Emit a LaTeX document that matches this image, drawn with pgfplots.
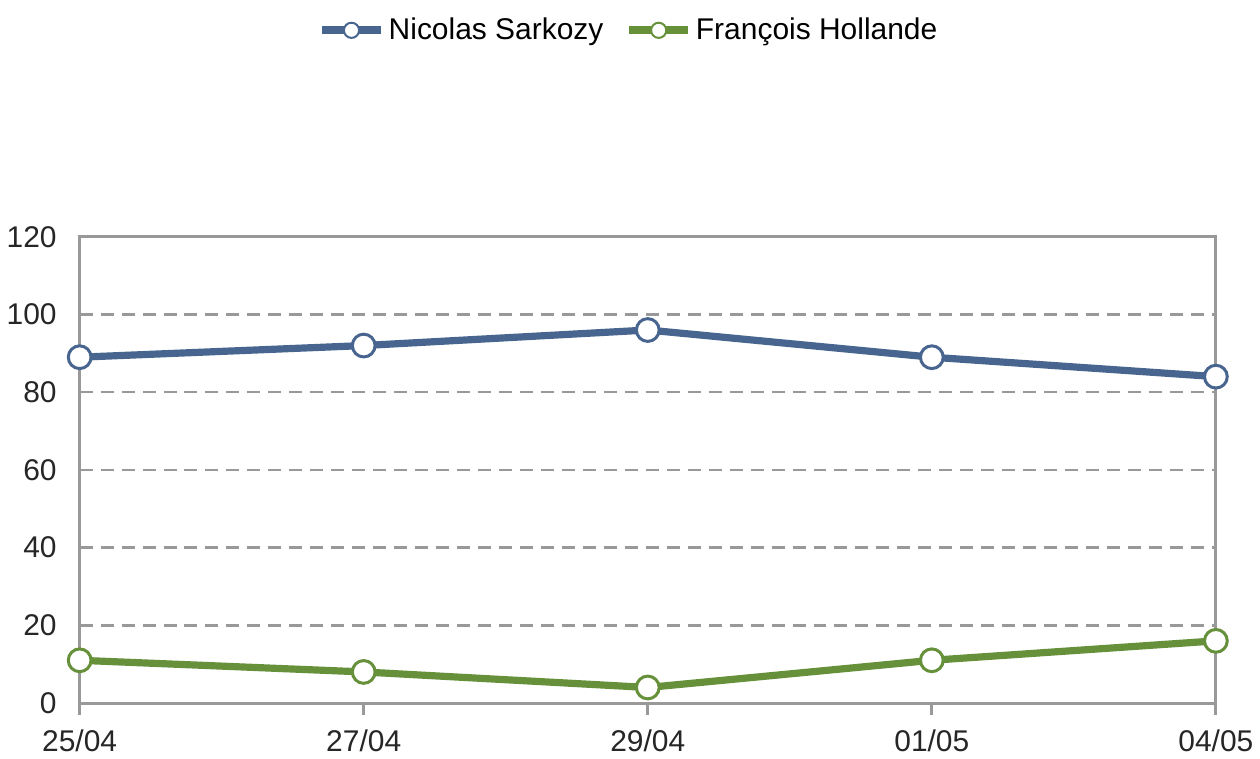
\documentclass[border=0pt]{standalone}
\usepackage{pgfplots}
\pgfplotsset{compat=1.18}
\usepackage{fontspec}
\setmainfont{Liberation Sans}
\definecolor{sarko}{HTML}{48658F}
\definecolor{holl}{HTML}{66903A}
\definecolor{gridg}{HTML}{999999}
\definecolor{txt}{HTML}{262626}
\begin{document}
\begin{tikzpicture}
\begin{axis}[
  scale only axis,
  width=569pt, height=233.5pt,
  xmin=0, xmax=4, ymin=0, ymax=120,
  xtick={0,1,2,3,4},
  xticklabels={25/04,27/04,29/04,01/05,04/05},
  ytick={0,20,40,60,80,100,120},
  /pgf/number format/assume math mode=true,
  font=\fontsize{15}{18}\selectfont,
  tick label style={text=txt},
  axis line style={gridg, line width=1.5pt},
  tick style={gridg, line width=1.5pt},
  major tick length=6pt,
  xtick pos=bottom, xtick align=outside,
  ytick style={draw=none},
  ymajorgrids,
  grid style={gridg, line width=1.3pt, dash pattern=on 6.5pt off 4pt},
  xticklabel style={yshift=-4pt},
  yticklabel style={xshift=-8pt},
  clip=false,
  legend columns=2,
  legend style={at={(0.5,1)}, anchor=south, yshift=88pt, xshift=-9pt, draw=none, inner ysep=7pt,
    font=\fontsize{15}{18}\selectfont,
    /tikz/every even column/.append style={column sep=9pt}},
  legend image code/.code={
    \draw[#1, line width=4pt, mark=none] (0cm,0cm) -- (1.03cm,0cm);
    \draw[#1, fill=white, line width=1pt] (0.515cm,0cm) circle (3.8pt);
  },
]
\addplot[sarko, line width=3.6pt, mark=*, mark size=5.7pt, mark options={fill=white, draw=sarko, line width=1.5pt}]
  coordinates {(0,89) (1,92) (2,96) (3,89) (4,84)};
\addlegendentry{Nicolas Sarkozy}
\addplot[holl, line width=3.6pt, mark=*, mark size=5.7pt, mark options={fill=white, draw=holl, line width=1.5pt}]
  coordinates {(0,11) (1,8) (2,4) (3,11) (4,16)};
\addlegendentry{François Hollande}
\end{axis}
\end{tikzpicture}
\end{document}
